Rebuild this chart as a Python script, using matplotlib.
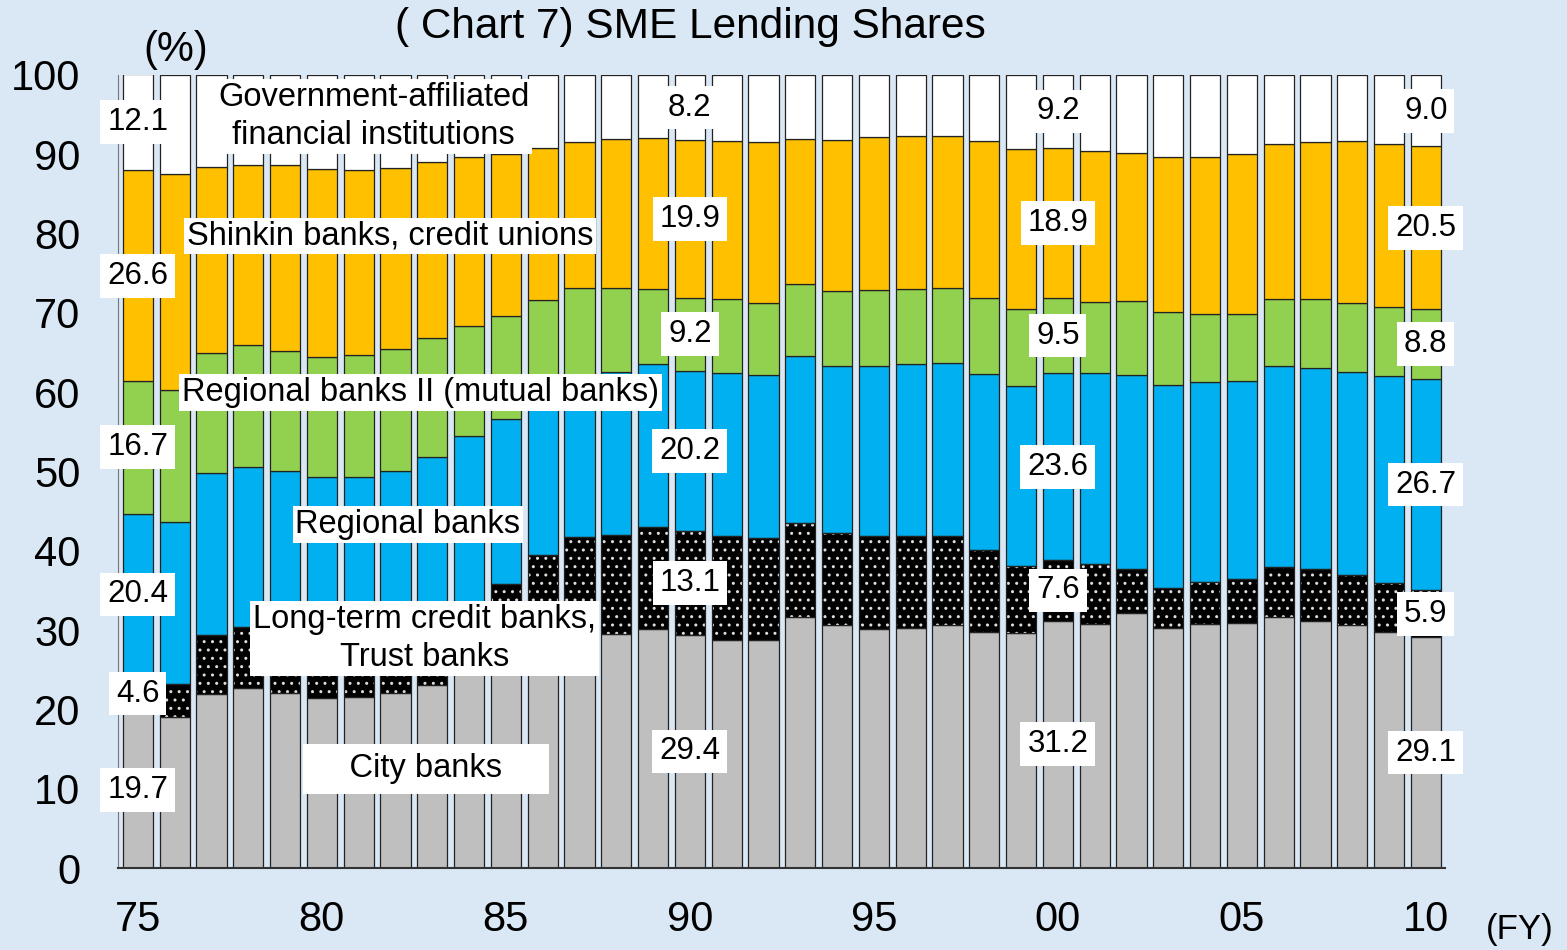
import matplotlib
matplotlib.use("Agg")
import matplotlib.pyplot as plt
import numpy as np

plt.rcParams['font.family'] = ['Liberation Sans', 'DejaVu Sans']
plt.rcParams['hatch.linewidth'] = 1.0

years = ['75', '76', '77', '78', '79', '80', '81', '82', '83', '84', '85', '86',
         '87', '88', '89', '90', '91', '92', '93', '94', '95', '96', '97', '98',
         '99', '00', '01', '02', '03', '04', '05', '06', '07', '08', '09', '10']

city = [19.7, 19.1, 21.9, 22.7, 22.1, 21.5, 21.6, 22.1, 23.1, 25.0, 26.0, 27.2,
        28.5, 29.5, 30.1, 29.4, 28.8, 28.7, 31.7, 30.7, 30.2, 30.3, 30.7, 29.8,
        29.6, 31.2, 30.8, 32.1, 30.3, 30.8, 30.9, 31.7, 31.2, 30.7, 29.7, 29.1]
longterm = [4.6, 4.1, 7.5, 7.7, 7.7, 7.7, 7.6, 7.7, 7.9, 8.6, 9.8, 12.3,
            13.3, 12.5, 12.9, 13.1, 13.1, 12.9, 11.8, 11.5, 11.7, 11.6, 11.2, 10.3,
            8.5, 7.6, 7.5, 5.6, 5.0, 5.3, 5.5, 6.2, 6.5, 6.2, 6.2, 5.9]
regional = [20.4, 20.4, 20.4, 20.2, 20.2, 20.1, 20.1, 20.3, 20.8, 20.9, 20.8, 19.5,
            19.2, 20.5, 20.6, 20.2, 20.5, 20.6, 21.1, 21.1, 21.4, 21.6, 21.8, 22.2,
            22.7, 23.6, 24.1, 24.5, 25.6, 25.2, 25.0, 25.4, 25.4, 25.7, 26.2, 26.7]
regional2 = [16.7, 16.7, 15.1, 15.4, 15.2, 15.2, 15.4, 15.4, 15.0, 13.8, 13.0, 12.6,
             12.1, 10.7, 9.4, 9.2, 9.3, 9.1, 9.1, 9.4, 9.6, 9.5, 9.4, 9.6,
             9.7, 9.5, 9.0, 9.3, 9.2, 8.5, 8.5, 8.5, 8.7, 8.6, 8.7, 8.8]
shinkin = [26.6, 27.2, 23.5, 22.7, 23.4, 23.7, 23.3, 22.8, 22.2, 21.3, 20.5, 19.2,
           18.5, 18.7, 19.0, 19.9, 20.0, 20.2, 18.2, 19.1, 19.3, 19.3, 19.2, 19.8,
           20.2, 18.9, 19.0, 18.7, 19.6, 19.9, 20.2, 19.5, 19.8, 20.5, 20.5, 20.5]
government = [12.1, 12.5, 11.6, 11.3, 11.4, 11.8, 12.0, 11.7, 11.0, 10.4, 9.9, 9.2,
              8.4, 8.1, 8.0, 8.2, 8.3, 8.5, 8.1, 8.2, 7.8, 7.7, 7.7, 8.3,
              9.3, 9.2, 9.6, 9.8, 10.3, 10.3, 9.9, 8.7, 8.4, 8.3, 8.7, 9.0]

tick_years = ['75', '80', '85', '90', '95', '00', '05', '10']
labelled_years = ['75', '90', '00', '10']

series = [
    ('City banks', city, '#bfbfbf'),
    ('Long-term credit banks,\nTrust banks', longterm, '#000000'),
    ('Regional banks', regional, '#00b0f0'),
    ('Regional banks II (mutual banks)', regional2, '#92d050'),
    ('Shinkin banks, credit unions', shinkin, '#ffc000'),
    ('Government-affiliated\nfinancial institutions', government, '#ffffff'),
]

bg = '#dae7f5'
fig = plt.figure(figsize=(15.67, 9.5), dpi=100, facecolor=bg)
ax = fig.add_axes([118 / 1567, 82 / 950, (1445 - 118) / 1567, (868 - 75) / 950])
ax.set_facecolor(bg)

x = np.arange(len(years))
width = 0.82
bottom = np.zeros(len(years))
for name, vals, col in series:
    vals = np.array(vals)
    if col == '#000000':
        ax.bar(x, vals, width, bottom=bottom, color='black', edgecolor='#dddddd',
               hatch='..', linewidth=0, zorder=2)
        ax.bar(x, vals, width, bottom=bottom, fill=False, edgecolor='#222222',
               linewidth=0.9, zorder=3)
    else:
        ax.bar(x, vals, width, bottom=bottom, color=col, edgecolor='#222222',
               linewidth=0.9, zorder=2)
    bottom = bottom + vals

# value labels at selected years
box = dict(facecolor='white', edgecolor='none', pad=5)
for yr in labelled_years:
    i = years.index(yr)
    b = 0.0
    for name, vals, col in series:
        v = vals[i]
        ax.text(i, b + v / 2, f'{v:.1f}', ha='center', va='center', fontsize=22.5,
                bbox=box, zorder=5)
        b += v

# series name labels
name_pos = [(7.83, 12.5), (7.8, 28.9), (7.34, 43.3), (7.69, 60.0), (6.85, 79.7), (6.41, 94.8)]
for (name, vals, col), (px, py) in zip(series, name_pos):
    txt = name
    bb = dict(facecolor='white', edgecolor='none', pad=2)
    if name == 'City banks':
        txt = '    City banks    '
        bb = dict(facecolor='white', edgecolor='none', pad=7)
    ax.text(px, py, txt, ha='center', va='center', fontsize=23.5, linespacing=1.3,
            multialignment='center', bbox=bb, zorder=6)

ax.set_xlim(-0.54, 35.52)
ax.set_ylim(0, 100)
ax.set_yticks(np.arange(0, 101, 10))
ax.set_yticklabels([str(v) for v in range(0, 101, 10)], fontsize=30)
ax.set_xticks([years.index(t) for t in tick_years])
ax.set_xticklabels(tick_years, fontsize=30)
ax.tick_params(axis='y', length=0, pad=27)
ax.tick_params(axis='x', length=0, pad=23)
for s in ['top', 'right']:
    ax.spines[s].set_visible(False)
ax.spines['left'].set_color('#777777')
ax.spines['bottom'].set_color('#333333')
ax.spines['bottom'].set_linewidth(1.5)

fig.text(690 / 1567, 1 - 27 / 950, '( Chart 7) SME Lending Shares', ha='center', va='center', fontsize=30.5)
fig.text(176 / 1567, 1 - 50 / 950, '(%)', ha='center', va='center', fontsize=30)
fig.text(1520 / 1567, 1 - 930 / 950, '(FY)', ha='center', va='center', fontsize=25)

fig.savefig('out.png', dpi=100, facecolor=bg)
